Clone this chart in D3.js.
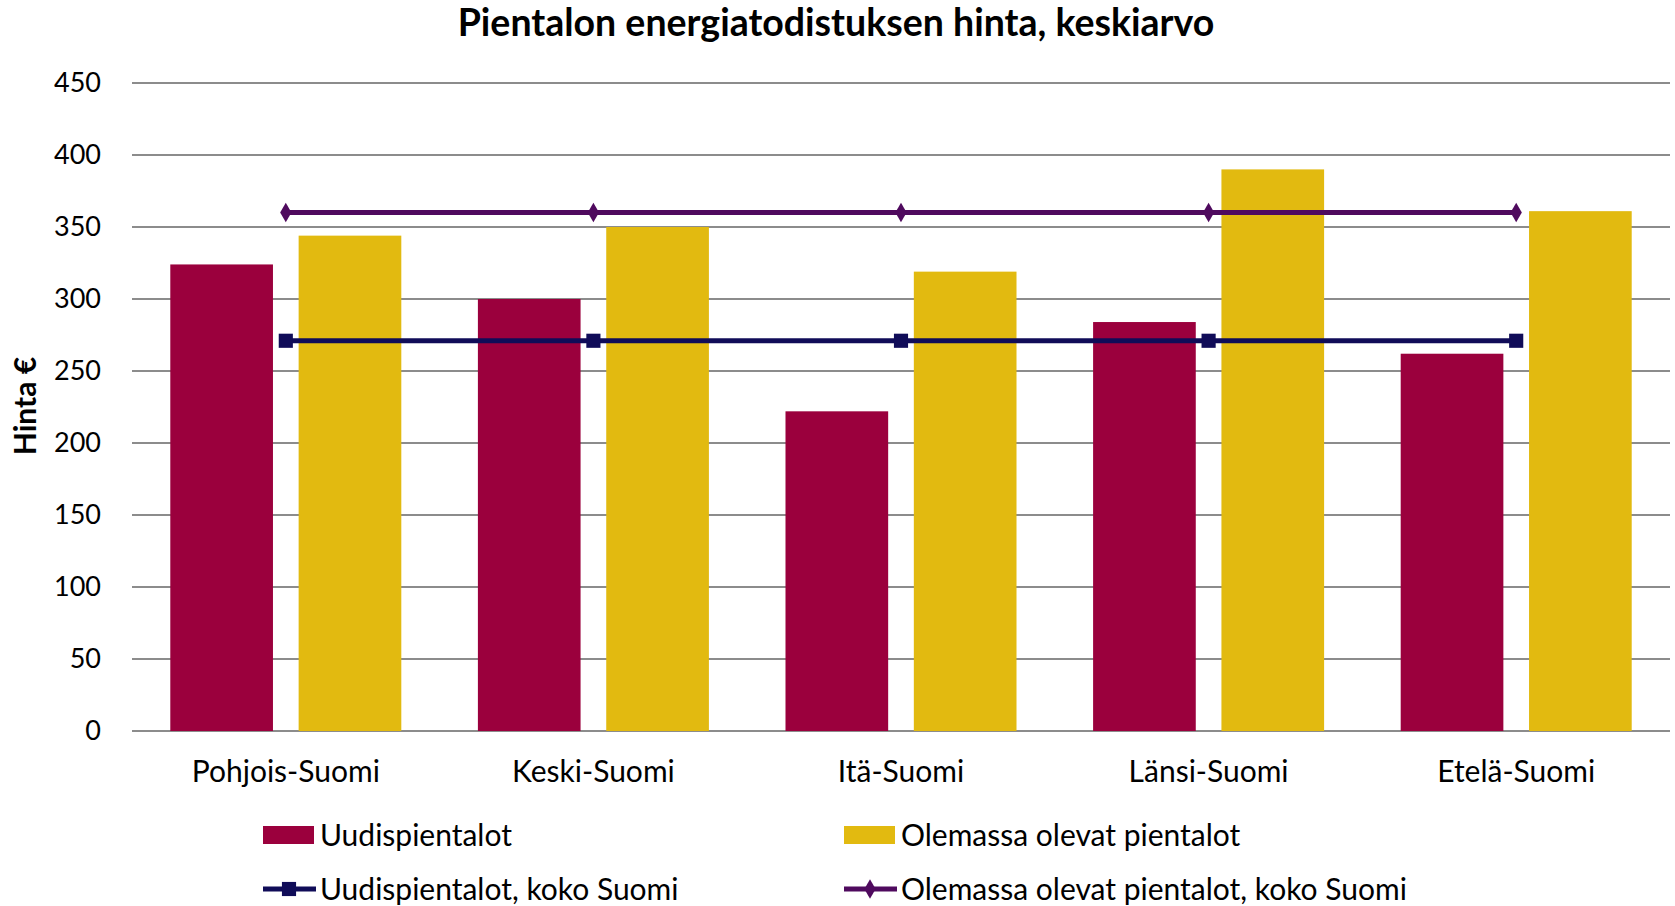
<!DOCTYPE html>
<html>
<head>
<meta charset="utf-8">
<script src="https://cdn.jsdelivr.net/npm/d3@7"></script>
<style>
  body { margin: 0; background: #fff; }
  svg text { font-family: Lato, "Open Sans", sans-serif; fill: #000; }
</style>
</head>
<body>
<svg width="1675" height="906"></svg>
<script>
const categories = ['Pohjois-Suomi', 'Keski-Suomi', 'Itä-Suomi', 'Länsi-Suomi', 'Etelä-Suomi'];
const seriesNames = ['Uudispientalot', 'Olemassa olevat pientalot'];
const uudisValues = [324, 300, 222, 284, 262];
const olemassaValues = [344, 350, 319, 390, 361];
const uudisAvg = [271, 271, 271, 271, 271];
const olemassaAvg = [360, 360, 360, 360, 360];
const yTicks = [0, 50, 100, 150, 200, 250, 300, 350, 400, 450];

const barColors = ['#9b003d', '#e2ba10'];
const lineColors = ['#100c58', '#4f0a5e'];

const svg = d3.select('svg');

const plotLeft = 132, plotRight = 1670, plotTop = 83, plotBottom = 731;

const x0 = d3.scaleBand().domain(categories).range([plotLeft, plotRight]).padding(0);
const step = x0.bandwidth();
const x1 = d3.scaleBand().domain(seriesNames)
    .range([step * 0.1245, step * (1 - 0.1245)])
    .paddingInner(0.2).paddingOuter(0);
const y = d3.scaleLinear().domain([0, 450]).range([plotBottom, plotTop]);

// gridlines
svg.append('g')
    .selectAll('line')
    .data(yTicks)
    .enter().append('line')
    .attr('x1', plotLeft).attr('x2', plotRight)
    .attr('y1', d => y(d)).attr('y2', d => y(d))
    .attr('stroke', '#8c8c8c')
    .attr('stroke-width', 2);

// y tick labels
svg.append('g')
    .selectAll('text')
    .data(yTicks)
    .enter().append('text')
    .attr('x', 101)
    .attr('y', d => y(d))
    .attr('dy', '0.35em')
    .attr('text-anchor', 'end')
    .style('font-size', '27px')
    .text(d => d);

// bars
const rows = categories.map((c, i) => ({ cat: c, vals: [uudisValues[i], olemassaValues[i]] }));
const groups = svg.append('g')
    .selectAll('g')
    .data(rows)
    .enter().append('g')
    .attr('transform', d => `translate(${x0(d.cat)},0)`);

groups.selectAll('rect')
    .data(d => d.vals.map((v, j) => ({ name: seriesNames[j], v: v, j: j })))
    .enter().append('rect')
    .attr('x', d => x1(d.name))
    .attr('width', x1.bandwidth())
    .attr('y', d => y(d.v))
    .attr('height', d => y(0) - y(d.v))
    .attr('fill', d => barColors[d.j]);

// average lines
const cx = c => x0(c) + step / 2;
const line = d3.line().x((d, i) => cx(categories[i])).y(d => y(d));

[uudisAvg, olemassaAvg].forEach((vals, k) => {
    svg.append('path')
        .datum(vals)
        .attr('d', line)
        .attr('fill', 'none')
        .attr('stroke', lineColors[k])
        .attr('stroke-width', 5);
    const sym = k === 0
        ? d3.symbol().type(d3.symbolSquare).size(200)
        : d3.symbol().type(d3.symbolDiamond).size(110);
    svg.append('g')
        .selectAll('path')
        .data(vals)
        .enter().append('path')
        .attr('d', sym)
        .attr('transform', (d, i) => `translate(${cx(categories[i])},${y(d)})`)
        .attr('fill', lineColors[k]);
});

// category labels
svg.append('g')
    .selectAll('text')
    .data(categories)
    .enter().append('text')
    .attr('x', d => cx(d))
    .attr('y', 782)
    .attr('text-anchor', 'middle')
    .style('font-size', '30px')
    .text(d => d);

// title
svg.append('text')
    .attr('x', 836)
    .attr('y', 36)
    .attr('text-anchor', 'middle')
    .style('font-size', '37.5px')
    .style('font-weight', 'bold')
    .text('Pientalon energiatodistuksen hinta, keskiarvo');

// y axis title
svg.append('text')
    .attr('transform', 'translate(36,406) rotate(-90)')
    .attr('text-anchor', 'middle')
    .style('font-size', '30px')
    .style('font-weight', 'bold')
    .text('Hinta €');

// legend
const legendItems = [
    { label: seriesNames[0], type: 'bar', color: barColors[0], x: 263, y: 835 },
    { label: seriesNames[1], type: 'bar', color: barColors[1], x: 844, y: 835 },
    { label: 'Uudispientalot, koko Suomi', type: 'square', color: lineColors[0], x: 263, y: 889 },
    { label: 'Olemassa olevat pientalot, koko Suomi', type: 'diamond', color: lineColors[1], x: 844, y: 889 }
];

const lg = svg.append('g')
    .selectAll('g')
    .data(legendItems)
    .enter().append('g')
    .attr('transform', d => `translate(${d.x},${d.y})`);

lg.filter(d => d.type === 'bar').append('rect')
    .attr('x', 0).attr('y', -9)
    .attr('width', 51).attr('height', 18)
    .attr('fill', d => d.color);

lg.filter(d => d.type !== 'bar').append('line')
    .attr('x1', 0).attr('x2', 53)
    .attr('y1', 0).attr('y2', 0)
    .attr('stroke', d => d.color)
    .attr('stroke-width', 5);

lg.filter(d => d.type !== 'bar').append('path')
    .attr('d', d => d.type === 'square'
        ? d3.symbol().type(d3.symbolSquare).size(200)()
        : d3.symbol().type(d3.symbolDiamond).size(110)())
    .attr('transform', 'translate(26,0)')
    .attr('fill', d => d.color);

lg.append('text')
    .attr('x', 57)
    .attr('dy', '0.35em')
    .style('font-size', '30px')
    .text(d => d.label);
</script>
</body>
</html>
